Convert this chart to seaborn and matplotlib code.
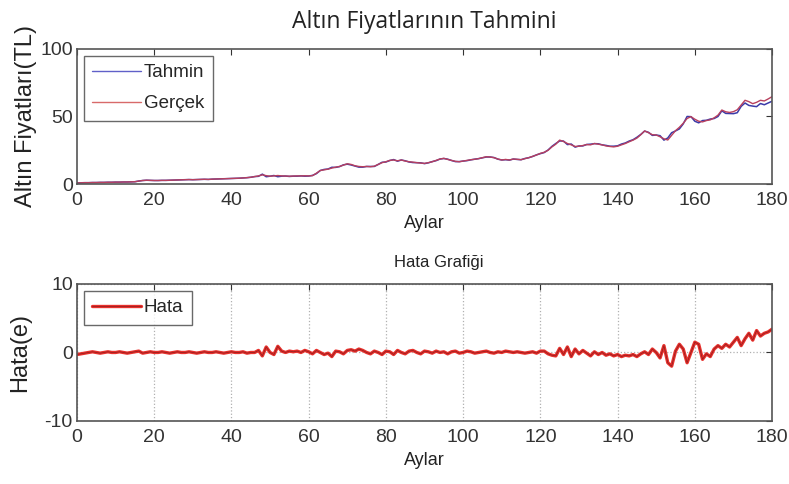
import numpy as np
import pandas as pd
import matplotlib
matplotlib.use("Agg")
import matplotlib.pyplot as plt
from matplotlib.lines import Line2D
import seaborn as sns

# Months 0..180
gercek = [
    0.8, 0.9, 1.0, 1.0, 1.1, 1.1, 1.2, 1.2, 1.3, 1.3, 1.4, 1.4, 1.5, 1.5, 1.6, 1.7,
    2.2, 2.6, 2.8, 2.7, 2.6,
    2.6, 2.7, 2.7, 2.8, 2.9, 3.0, 3.1, 3.2, 3.3, 3.2,
    3.3, 3.4, 3.5, 3.4, 3.6, 3.7, 3.8, 3.9, 4.0, 4.1,
    4.2, 4.3, 4.5, 4.7, 5.0, 5.5, 6.0, 6.8, 6.2, 5.8,
    6.0, 6.3, 6.0, 5.9, 5.8, 5.9, 6.0, 6.0, 6.1, 6.0, 6.2, 8.0,
    10.0, 10.5, 11.0, 11.8, 12.5, 13.0, 14.0, 15.0,
    14.5, 13.5, 13.0, 12.8, 13.0, 12.8, 13.2, 14.5, 15.8, 16.5,
    17.5, 17.8, 17.2, 17.8, 17.0, 16.5, 16.2, 15.8, 15.5, 15.3,
    15.8, 16.5, 17.5, 18.5, 19.0, 18.2, 17.5, 16.8, 16.5, 17.0,
    17.5, 18.0, 18.3, 18.8, 19.5, 20.2, 20.0, 19.5, 18.5, 17.8,
    18.2, 17.8, 18.5, 18.3, 18.0, 18.8, 19.5, 20.5, 21.5, 22.7,
    23.5, 25.0, 27.5, 29.5, 32.5, 31.5, 30.0, 29.0, 27.8, 28.0,
    28.5, 29.2, 29.0, 30.0, 29.5, 29.0, 28.2, 27.8, 27.5, 28.0,
    29.0, 30.0, 31.3, 32.5, 34.0, 36.5, 39.3, 38.0, 36.5, 36.3,
    35.0, 33.5, 32.6, 36.0, 39.5, 42.0, 45.0, 48.5, 49.9, 48.0,
    46.5, 46.0, 47.0, 47.5, 49.0, 51.0, 54.8, 53.5, 53.0, 53.6,
    55.0, 58.5, 62.0, 61.0, 59.5, 60.5, 62.0, 61.5, 63.0, 64.7,
]

tahmin = [
    0.8, 0.9, 1.0, 1.0, 1.1, 1.1, 1.2, 1.2, 1.3, 1.3, 1.4, 1.4, 1.5, 1.5, 1.6, 1.7,
    2.2, 2.6, 2.8, 2.7, 2.6,
    2.6, 2.7, 2.7, 2.8, 2.9, 3.0, 3.1, 3.2, 3.3, 3.2,
    3.3, 3.4, 3.5, 3.4, 3.6, 3.7, 3.8, 3.9, 4.0, 4.1,
    4.2, 4.3, 4.5, 4.7, 5.0,
    5.5, 5.7, 7.3, 5.4, 5.8, 6.3, 5.4, 5.8, 5.9, 5.6, 5.8,
    5.8, 6.0, 5.8, 5.9, 6.4, 7.7, 10.0, 10.8, 11.1, 12.4,
    12.3, 12.9, 14.2, 14.7, 14.1, 13.3, 12.5, 12.5, 13.0, 13.0,
    13.0, 14.5, 16.1, 16.3, 17.4, 18.1, 16.9, 17.8, 17.2, 16.3,
    15.9, 15.8, 15.7, 15.1, 15.7, 16.6, 17.3, 18.5, 18.9, 18.4,
    17.4, 16.6, 16.6, 17.0, 17.3, 17.9, 18.4, 18.8, 19.4, 20.0,
    20.0, 19.6, 18.4, 17.8, 18.0, 17.7, 18.5, 18.2, 18.0, 18.9,
    19.5, 20.4, 21.6, 22.5,
    23.3, 25.2, 27.9, 30.0, 31.9, 31.8, 29.2, 29.6, 27.3, 28.2, 28.2,
    29.3, 29.5, 29.9, 29.8, 29.0, 28.6, 28.0, 28.0, 28.3, 29.6,
    30.4, 31.8, 32.8, 34.6, 36.7, 39.2, 38.3,
    36.0, 36.3, 35.8, 32.5, 34.1, 38.0, 39.3, 40.8, 44.5, 50.0,
    49.9, 46.5, 45.3, 47.0, 47.2, 48.1, 48.5, 50.0, 54.2, 52.3,
    52.2, 52.1, 52.8, 57.5, 60.0, 58.2, 57.7, 57.3, 59.6, 58.7,
    60.0, 61.3,
]

hata = [
    -0.3, -0.2, -0.1, 0.0, 0.1, 0.0, -0.1, 0.0, 0.1, 0.0,
    0.0, 0.1, 0.0, -0.1, 0.0, 0.1, 0.2, -0.1, 0.0, 0.1,
    0.0, 0.0, 0.1, 0.0, -0.1, 0.0, 0.1, 0.0, 0.0, 0.1,
    0.0, -0.1, 0.0, 0.1, 0.0, 0.0, 0.1, 0.0, -0.1, 0.0,
    0.1, 0.0, 0.0, 0.1, -0.1, 0.0,
    0.0, 0.3, -0.5, 0.8, 0.0, -0.3, 0.9, 0.2, 0.0, 0.2, 0.1,
    0.2, 0.0, 0.3, 0.1, -0.2, 0.3, 0.0, -0.3, -0.1, -0.6,
    0.2, 0.1, -0.2, 0.3, 0.4, 0.2, 0.5, 0.3, 0.0, -0.2,
    0.2, 0.0, -0.3, 0.2, 0.1, -0.3, 0.3, 0.0, -0.2, 0.2,
    0.3, 0.0, -0.2, 0.2, 0.1, -0.1, 0.2, 0.0, 0.1, -0.2,
    0.1, 0.2, -0.1, 0.0, 0.2, 0.1, -0.1, 0.0, 0.1, 0.2,
    0.0, -0.1, 0.1, 0.0, 0.2, 0.1, 0.0, 0.1, 0.0, -0.1,
    0.0, 0.1, -0.1, 0.2,
    0.2, -0.2, -0.4, -0.5, 0.6, -0.3, 0.8, -0.6, 0.5, -0.2, 0.3,
    -0.1, -0.5, 0.1, -0.3, 0.0, -0.4, -0.2, -0.5, -0.3, -0.6,
    -0.4, -0.5, -0.3, -0.6, -0.2, 0.1, -0.3,
    0.5, 0.0, -0.8, 1.0, -1.5, -2.0, 0.2, 1.2, 0.5, -1.5,
    0.0, 1.5, 1.2, -1.0, -0.2, -0.6, 0.5, 1.0, 0.6, 1.2,
    0.8, 1.5, 2.2, 1.0, 2.0, 2.8, 1.8, 3.2, 2.4, 2.8,
    3.0, 3.4,
]

aylar = list(range(len(gercek)))
x_ticks = [0, 20, 40, 60, 80, 100, 120, 140, 160, 180]
y_ticks_top = [0, 50, 100]
y_ticks_bot = [-10, 0, 10]

sns.set_style("white")
plt.rcParams['font.family'] = ['Liberation Sans', 'DejaVu Sans']
plt.rcParams['axes.unicode_minus'] = False

df = pd.DataFrame({"Aylar": aylar, "Tahmin": tahmin, "Gerçek": gercek, "Hata": hata})

fig = plt.figure(figsize=(7.89, 4.84), dpi=100)
ax1 = fig.add_axes([0.0976, 0.6198, 0.8809, 0.2790])
ax2 = fig.add_axes([0.0976, 0.1302, 0.8809, 0.2831])

sns.lineplot(data=df, x="Aylar", y="Tahmin", ax=ax1, color="#3a3aa8", lw=1.1, legend=False)
sns.lineplot(data=df, x="Aylar", y="Gerçek", ax=ax1, color="#b8405e", lw=1.0, legend=False)
sns.lineplot(data=df, x="Aylar", y="Hata", ax=ax2, color="#e8302c", lw=2.4, legend=False)
sns.lineplot(data=df, x="Aylar", y="Hata", ax=ax2, color="#9a2020", lw=0.6, legend=False)

spine_c = "#555555"
for ax, yt in ((ax1, y_ticks_top), (ax2, y_ticks_bot)):
    ax.set_xlim(0, 180)
    ax.set_xticks(x_ticks)
    ax.set_yticks(yt)
    ax.set_ylim(yt[0], yt[-1])
    ax.tick_params(direction="in", top=True, right=True, length=4, width=0.8,
                   colors="#333333", labelsize=14)
    ax.tick_params(axis="x", pad=6)
    ax.tick_params(axis="y", pad=3)
    for s in ax.spines.values():
        s.set_color(spine_c)
        s.set_linewidth(1.2)
    ax.set_xlabel("Aylar", fontsize=13, labelpad=4, color="#222222")

ax2.grid(True, linestyle=":", color="#b0b0b0", linewidth=0.9)
ax2.set_axisbelow(True)

ax1.set_ylabel("Altın Fiyatları(TL)", fontsize=17, labelpad=2, color="#222222")
ax2.set_ylabel("Hata(e)", fontsize=17, labelpad=10, color="#222222")

ax1.set_title("Altın Fiyatlarının Tahmini", fontsize=16.5, family=["Open Sans", "DejaVu Sans"],
              pad=15, color="#222222")
ax2.set_title("Hata Grafiği", fontsize=12, pad=12, color="#222222", x=0.52)

h_top = [Line2D([], [], color="#6060c8", lw=1.0), Line2D([], [], color="#d86a6a", lw=1.0)]
h_bot = [(Line2D([], [], color="#e8302c", lw=2.4), Line2D([], [], color="#9a2020", lw=0.6))]
leg1 = ax1.legend(h_top, ["Tahmin", "Gerçek"], loc="upper left", fontsize=13.5,
                  frameon=True, fancybox=False, borderpad=0.45, handlelength=2.6,
                  handletextpad=0.15, labelspacing=0.75, borderaxespad=0.35)
leg2 = ax2.legend(h_bot, ["Hata"], loc="upper left", fontsize=13.5,
                  frameon=True, fancybox=False, borderpad=0.45, handlelength=2.6,
                  handletextpad=0.15, borderaxespad=0.35)
for leg in (leg1, leg2):
    leg.get_frame().set_edgecolor("#444444")
    leg.get_frame().set_linewidth(1.0)

fig.savefig("out.png", dpi=100, facecolor="white")
